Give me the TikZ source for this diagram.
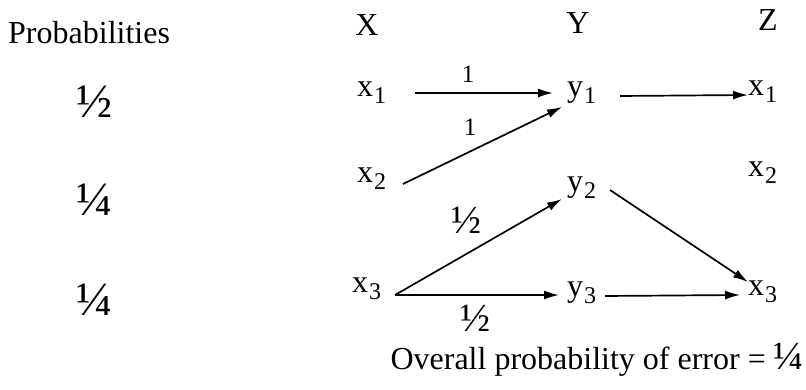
\documentclass[tikz,border=0pt]{standalone}
\usepackage{fontspec}
\setmainfont{Liberation Serif}
\usetikzlibrary{arrows.meta}
\newcommand\mysub[2]{#1\kern1pt\raisebox{-7pt}{\fontsize{24}{24}\selectfont #2}}
\begin{document}
\begin{tikzpicture}[x=1pt,y=1pt,
  every node/.style={inner sep=0pt,font=\fontsize{32}{38}\selectfont},
  lab/.style={anchor=base west},
  hdr/.style={anchor=base},
  frac/.style={anchor=center,font=\fontsize{48}{52}\selectfont},
  elab/.style={anchor=center,font=\fontsize{25}{28}\selectfont},
  efrac/.style={anchor=center,font=\fontsize{40}{44}\selectfont},
  arr/.style={line width=1.7pt,-{Latex[length=15pt,width=9pt]}}]
\useasboundingbox (0,0) rectangle (806,390);
% headers
\node[lab] (prob) at (8,346) {Probabilities};
\node[hdr] (hx) at (367,354) {X};
\node[hdr] (hy) at (578,356) {Y};
\node[hdr] (hz) at (768,359) {Z};
% probabilities
\node[frac] (p1) at (94,288) {½};
\node[frac] (p2) at (94,190) {¼};
\node[frac] (p3) at (94,90) {¼};
% X column
\node[lab] (x1) at (357,293) {\mysub{x}{1}};
\node[lab] (x2) at (357,207) {\mysub{x}{2}};
\node[lab] (x3) at (352,97) {\mysub{x}{3}};
% Y column
\node[lab] (y1) at (567,293) {\mysub{y}{1}};
\node[lab] (y2) at (567,198) {\mysub{y}{2}};
\node[lab] (y3) at (567,93) {\mysub{y}{3}};
% Z column
\node[lab] (z1) at (748,294) {\mysub{x}{1}};
\node[lab] (z2) at (748,213) {\mysub{x}{2}};
\node[lab] (z3) at (748,94) {\mysub{x}{3}};
% arrows
\draw[arr] ([shift={(58pt,4pt)}]x1.base west) -- ([shift={(-14pt,4pt)}]y1.base west);
\draw[arr] ([shift={(46pt,-1pt)}]x2.base west) -- ([shift={(-5pt,-10pt)}]y1.base west);
\draw[arr] ([shift={(43pt,-2pt)}]x3.base west) -- ([shift={(-5pt,-7pt)}]y2.base west);
\draw[arr] ([shift={(43pt,-2pt)}]x3.base west) -- ([shift={(-8pt,2pt)}]y3.base west);
\draw[arr] ([shift={(53pt,1pt)}]y1.base west) -- ([shift={(0pt,1pt)}]z1.base west);
\draw[arr] ([shift={(43pt,2pt)}]y2.base west) -- ([shift={(0pt,14pt)}]z3.base west);
\draw[arr] ([shift={(38pt,1pt)}]y3.base west) -- ([shift={(-8pt,1pt)}]z3.base west);
% edge labels
\node[elab] (l1) at (468,316) {1};
\node[elab] (l2) at (470,263) {1};
\node[efrac] (l3) at (466,170) {½};
\node[efrac] (l4) at (475,72) {½};
% bottom text
\node[anchor=base east] (err) at (804,20) {Overall probability of error = {\fontsize{40}{44}\selectfont ¼}};
\end{tikzpicture}
\end{document}
